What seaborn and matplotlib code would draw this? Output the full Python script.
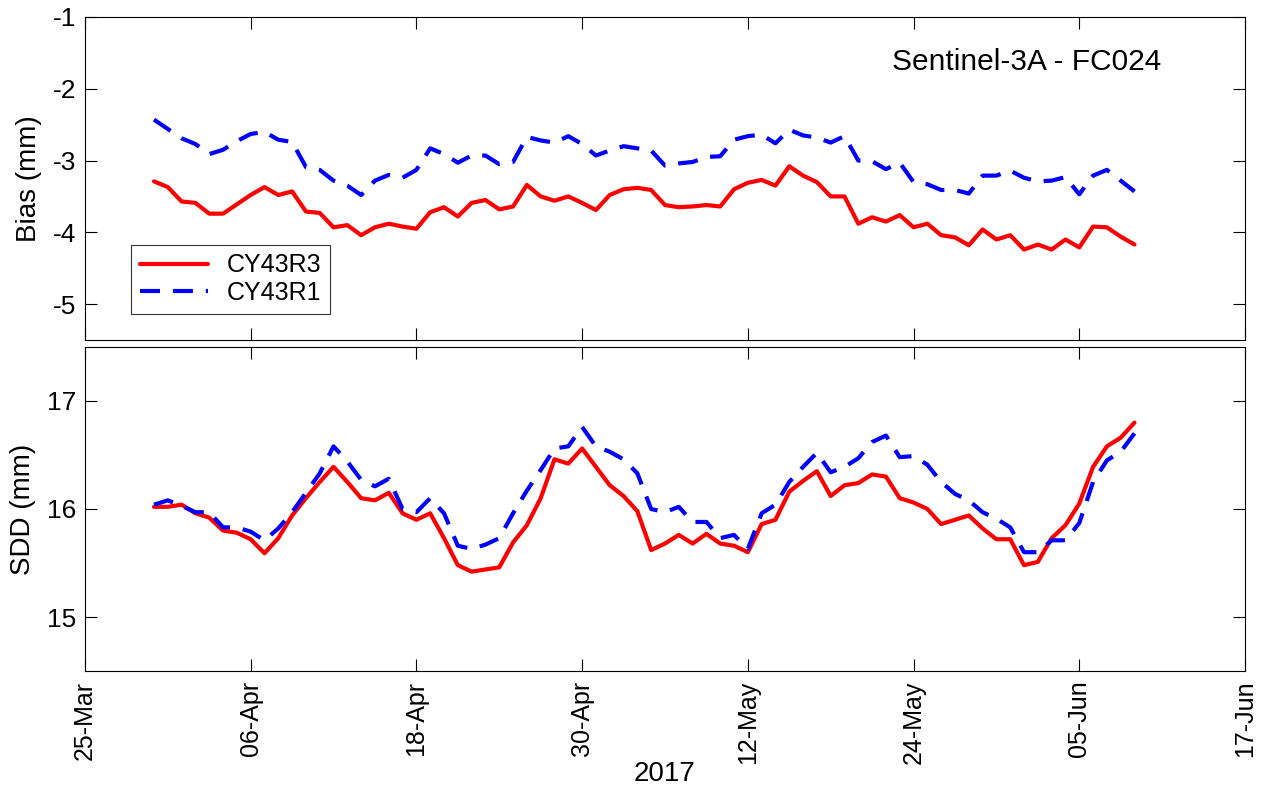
import matplotlib
matplotlib.use("Agg")
import matplotlib.pyplot as plt
import matplotlib.dates as mdates
import numpy as np
import pandas as pd
import seaborn as sns

# ---------------- data ----------------
start_date = "2017-03-30"
n_days = 72
models = ["CY43R3", "CY43R1"]

bias_cy43r3 = [-3.29, -3.37, -3.57, -3.59, -3.74, -3.74, -3.61, -3.48, -3.37, -3.48,
               -3.43, -3.71, -3.73, -3.93, -3.90, -4.04, -3.93, -3.88, -3.92, -3.95,
               -3.72, -3.65, -3.78, -3.59, -3.55, -3.68, -3.64, -3.34, -3.50, -3.56,
               -3.50, -3.59, -3.69, -3.48, -3.40, -3.38, -3.41, -3.62, -3.65, -3.64,
               -3.62, -3.64, -3.40, -3.31, -3.27, -3.35, -3.08, -3.21, -3.30, -3.50,
               -3.50, -3.88, -3.79, -3.85, -3.76, -3.93, -3.88, -4.04, -4.07, -4.18,
               -3.96, -4.10, -4.04, -4.24, -4.17, -4.24, -4.10, -4.21, -3.92, -3.93,
               -4.06, -4.17]
bias_cy43r1 = [-2.43, -2.56, -2.69, -2.77, -2.91, -2.85, -2.73, -2.63, -2.60, -2.71,
               -2.74, -3.09, -3.13, -3.28, -3.35, -3.48, -3.28, -3.20, -3.24, -3.13,
               -2.83, -2.91, -3.03, -2.93, -2.93, -3.05, -3.02, -2.67, -2.72, -2.75,
               -2.66, -2.77, -2.93, -2.86, -2.80, -2.83, -2.86, -3.07, -3.04, -3.02,
               -2.95, -2.94, -2.71, -2.66, -2.64, -2.76, -2.57, -2.65, -2.68, -2.75,
               -2.66, -3.00, -3.01, -3.12, -3.03, -3.30, -3.33, -3.41, -3.41, -3.46,
               -3.21, -3.21, -3.14, -3.24, -3.29, -3.28, -3.23, -3.47, -3.21, -3.13,
               -3.28, -3.43]
sdd_cy43r3 = [16.02, 16.02, 16.04, 15.96, 15.92, 15.80, 15.78, 15.72, 15.59, 15.73,
              15.94, 16.10, 16.25, 16.39, 16.25, 16.10, 16.08, 16.15, 15.96, 15.90,
              15.96, 15.73, 15.48, 15.42, 15.44, 15.46, 15.69, 15.85, 16.10, 16.46,
              16.42, 16.56, 16.39, 16.22, 16.12, 15.98, 15.62, 15.68, 15.76, 15.68,
              15.77, 15.68, 15.66, 15.60, 15.86, 15.90, 16.16, 16.26, 16.35, 16.12,
              16.22, 16.24, 16.32, 16.30, 16.10, 16.06, 16.00, 15.86, 15.90, 15.94,
              15.82, 15.72, 15.72, 15.48, 15.51, 15.73, 15.85, 16.05, 16.39, 16.58,
              16.66, 16.80]
sdd_cy43r1 = [16.04, 16.08, 16.03, 15.97, 15.97, 15.83, 15.83, 15.79, 15.71, 15.82,
              15.97, 16.15, 16.33, 16.58, 16.44, 16.27, 16.21, 16.28, 16.00, 15.97,
              16.10, 15.96, 15.66, 15.63, 15.67, 15.73, 15.96, 16.17, 16.36, 16.56,
              16.58, 16.76, 16.58, 16.53, 16.46, 16.33, 16.00, 15.97, 16.02, 15.88,
              15.88, 15.73, 15.76, 15.63, 15.96, 16.04, 16.25, 16.39, 16.52, 16.34,
              16.39, 16.47, 16.62, 16.68, 16.48, 16.49, 16.41, 16.25, 16.14, 16.08,
              15.97, 15.91, 15.83, 15.60, 15.60, 15.71, 15.71, 15.87, 16.25, 16.45,
              16.53, 16.70]

bias_ticks = [-5, -4, -3, -2, -1]
sdd_ticks = [15, 16, 17]
x_tick_dates = ["2017-03-25", "2017-04-06", "2017-04-18", "2017-04-30",
                "2017-05-12", "2017-05-24", "2017-06-05", "2017-06-17"]
panel_label = "Sentinel-3A - FC024"

# ---------------- build table ----------------
dates = pd.date_range(start_date, periods=n_days, freq="D")
df = pd.concat([
    pd.DataFrame({"date": dates, "bias": bias_cy43r3, "sdd": sdd_cy43r3, "model": models[0]}),
    pd.DataFrame({"date": dates, "bias": bias_cy43r1, "sdd": sdd_cy43r1, "model": models[1]}),
], ignore_index=True)

# ---------------- style ----------------
sns.set_theme(style="white")
plt.rcParams["font.family"] = ["Liberation Sans", "DejaVu Sans"]
plt.rcParams["axes.linewidth"] = 0.8
plt.rcParams["axes.edgecolor"] = "black"
plt.rcParams["text.color"] = "black"
plt.rcParams["axes.labelcolor"] = "black"
plt.rcParams["xtick.color"] = "black"
plt.rcParams["ytick.color"] = "black"

palette = {models[0]: "#ff0000", models[1]: "#0000ff"}
dashes = {models[0]: "", models[1]: (4.8, 3.1)}

fig = plt.figure(figsize=(12.66, 7.94), dpi=100)
ax1 = fig.add_axes([0.0671, 0.5718, 0.9163, 0.4068])
ax2 = fig.add_axes([0.0671, 0.1549, 0.9163, 0.4081])

sns.lineplot(data=df, x="date", y="bias", hue="model", style="model",
             palette=palette, dashes=dashes, hue_order=models, style_order=models,
             linewidth=3, ax=ax1, legend=True)
sns.lineplot(data=df, x="date", y="sdd", hue="model", style="model",
             palette=palette, dashes=dashes, hue_order=models, style_order=models,
             linewidth=3, ax=ax2, legend=False)

xt = pd.to_datetime(x_tick_dates)
for ax in (ax1, ax2):
    ax.set_xlim(xt[0], xt[-1])
    ax.set_xticks(xt)
    ax.tick_params(direction="in", length=8.5, width=0.8, top=True, right=True,
                   bottom=True, left=True, labelsize=19, colors="black", pad=6)
    for s in ax.spines.values():
        s.set_visible(True)
        s.set_color("black")
        s.set_linewidth(0.8)

ax1.set_ylim(-5.5, -1)
ax1.set_yticks(bias_ticks)
ax1.set_yticklabels([str(t) for t in bias_ticks])
ax1.set_xticklabels([])
ax1.set_xlabel("")
ax1.set_ylabel("Bias (mm)", fontsize=20, labelpad=8, color="black")

ax2.set_ylim(14.5, 17.5)
ax2.set_yticks(sdd_ticks)
ax2.set_ylabel("SDD (mm)", fontsize=20, labelpad=8, color="black")
ax2.xaxis.set_major_formatter(mdates.DateFormatter("%d-%b"))
ax2.tick_params(axis="x", labelrotation=90, pad=7, labelsize=18)
ax2.set_xlabel("2017", fontsize=20, labelpad=-2, color="black")

ax1.text(0.928, 0.836, panel_label, transform=ax1.transAxes, ha="right",
         va="baseline", fontsize=21.5, color="black")

leg = ax1.legend(loc="lower left", bbox_to_anchor=(0.040, 0.0805), borderaxespad=0,
                 fontsize=18, frameon=True, fancybox=False, shadow=False,
                 handlelength=2.7, handletextpad=0.75, borderpad=0.35,
                 labelspacing=0.15, title=None)
leg.get_frame().set_edgecolor("black")
leg.get_frame().set_linewidth(0.8)
for t in leg.get_texts():
    t.set_color("black")
for line in leg.get_lines():
    line.set_linewidth(3)

fig.savefig("out.png", dpi=100)
